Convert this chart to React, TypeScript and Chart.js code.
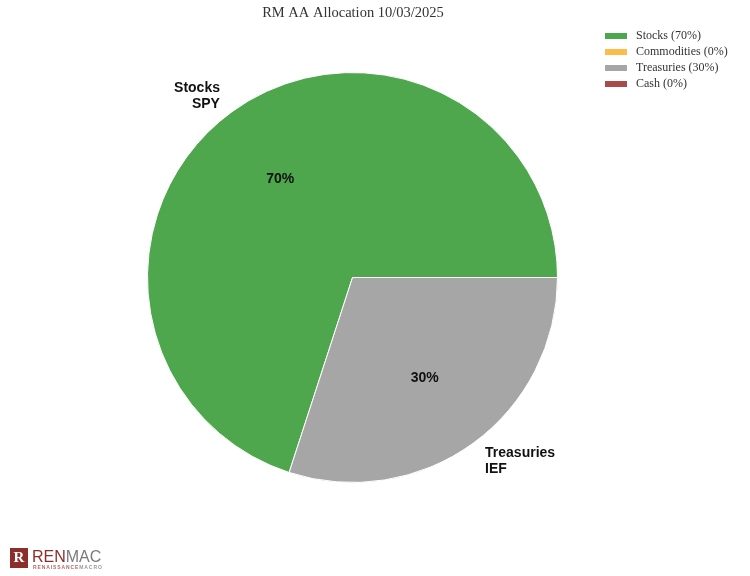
import React, { useEffect, useRef } from "react";
import { Chart, registerables } from "chart.js";

Chart.register(...registerables);

const categories = ["Stocks", "Commodities", "Treasuries", "Cash"];
const tickers = ["SPY", "", "IEF", ""];
const values = [70, 0, 30, 0];
const colors = ["#4ea64d", "#fbbc48", "#a6a6a6", "#a84b4b"];
const title = "RM AA Allocation 10/03/2025";

const overlay = {
  id: "overlay",
  afterDatasetsDraw(chart: any) {
    const ctx = chart.ctx;
    const meta = chart.getDatasetMeta(0);
    ctx.save();
    meta.data.forEach((arc: any, i: number) => {
      if (!values[i]) return;
      const { x, y, startAngle, endAngle, outerRadius } = arc.getProps(
        ["x", "y", "startAngle", "endAngle", "outerRadius"],
        true
      );
      const mid = (startAngle + endAngle) / 2;
      ctx.fillStyle = "#111";
      ctx.font = "bold 14px 'Liberation Sans', Arial, sans-serif";
      ctx.textAlign = "center";
      ctx.textBaseline = "middle";
      const px = x + Math.cos(mid) * outerRadius * 0.6;
      const py = y + Math.sin(mid) * outerRadius * 0.6 + 1;
      ctx.fillText(values[i] + "%", px, py);
      const lx = x + Math.cos(mid) * outerRadius * 1.1;
      const ly = y + Math.sin(mid) * outerRadius * 1.1 + 1;
      ctx.textAlign = Math.cos(mid) < 0 ? "right" : "left";
      ctx.fillText(categories[i], lx, ly - 8);
      ctx.fillText(tickers[i], lx, ly + 8);
    });
    // title
    ctx.fillStyle = "#333";
    ctx.font = "14.5px Georgia, 'Liberation Serif', serif";
    ctx.textAlign = "center";
    ctx.textBaseline = "middle";
    ctx.fillText(title, 353, 13);
    // legend
    ctx.font = "12px Georgia, 'Liberation Serif', serif";
    ctx.textAlign = "left";
    categories.forEach((c, i) => {
      const yy = 36 + i * 16;
      ctx.fillStyle = colors[i];
      ctx.fillRect(605, yy - 3, 22, 6);
      ctx.fillStyle = "#333";
      ctx.fillText(`${c} (${values[i]}%)`, 636, yy);
    });
    // logo
    ctx.fillStyle = "#8c2f2b";
    ctx.fillRect(10, 548, 18, 20);
    ctx.fillStyle = "#fff";
    ctx.font = "bold 15px 'Liberation Serif', serif";
    ctx.textAlign = "center";
    ctx.fillText("R", 19, 558);
    ctx.textAlign = "left";
    ctx.textBaseline = "alphabetic";
    ctx.font = "16px 'Liberation Sans', Arial, sans-serif";
    ctx.fillStyle = "#8c2f2b";
    ctx.fillText("REN", 32, 562);
    const w = ctx.measureText("REN").width;
    ctx.fillStyle = "#7a7a7a";
    ctx.fillText("MAC", 32 + w, 562);
    ctx.font = "bold 5px 'Liberation Sans', Arial, sans-serif";
    (ctx as any).letterSpacing = "0.9px";
    ctx.fillStyle = "#b06a66";
    ctx.fillText("RENAISSANCE", 33, 569);
    const w2 = ctx.measureText("RENAISSANCE").width;
    ctx.fillStyle = "#999";
    ctx.fillText("MACRO", 33 + w2, 569);
    ctx.restore();
  },
};

export default function App() {
  const ref = useRef<HTMLCanvasElement>(null);
  useEffect(() => {
    if (!ref.current) return;
    const chart = new Chart(ref.current, {
      type: "pie",
      data: {
        labels: categories,
        datasets: [
          {
            data: values,
            backgroundColor: colors,
            borderColor: "#ffffff",
            borderWidth: 1,
          },
        ],
      },
      options: {
        animation: false,
        responsive: false,
        rotation: 198,
        layout: { padding: { left: 147, right: 192, top: 72, bottom: 93 } },
        plugins: {
          legend: { display: false },
          tooltip: { enabled: false },
          title: { display: false },
        },
      },
      plugins: [overlay],
    });
    return () => chart.destroy();
  }, []);
  return (
    <div style={{ position: "absolute", left: 0, top: 0, width: 750, height: 576, background: "#fff" }}>
      <canvas ref={ref} width={750} height={576} style={{ width: 750, height: 576 }} />
    </div>
  );
}
